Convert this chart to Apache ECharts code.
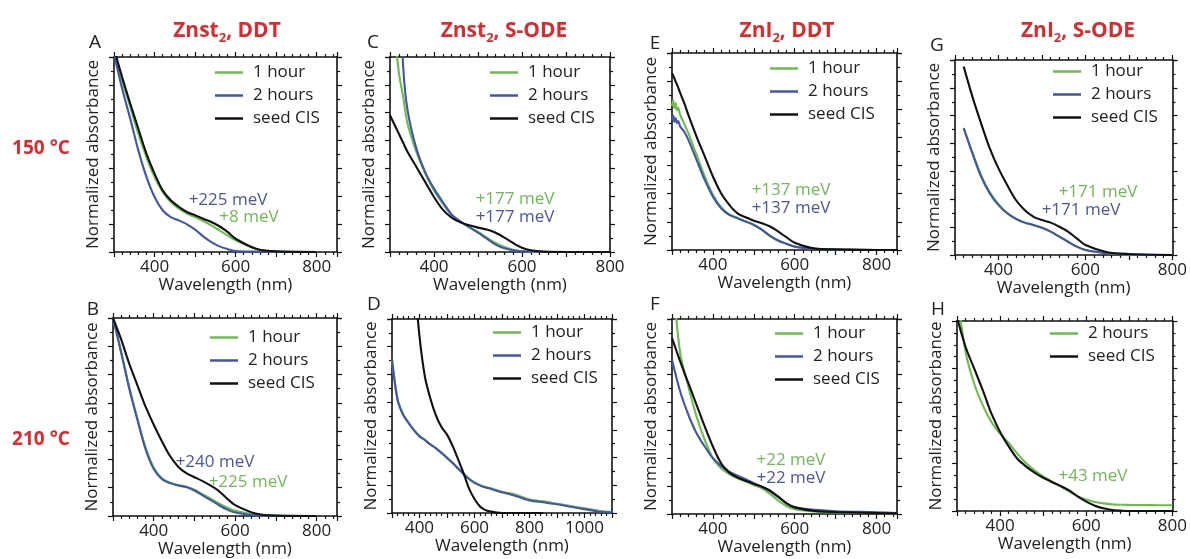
<!DOCTYPE html>
<html>
<head>
<meta charset="utf-8">
<script src="https://cdn.jsdelivr.net/npm/echarts@6/dist/echarts.min.js"></script>
<style>
  html, body { margin: 0; background: #fff; }
  #chart { width: 1190px; height: 559px; }
</style>
</head>
<body>
<div id="chart"></div>
<script>
// wavelengths (nm) and normalized absorbance
const waveA = [300, 320, 340, 360, 380, 400, 420, 440, 460, 480, 500, 520, 540, 560, 580, 600, 650, 700, 800];
const a1h   = [1.034, 0.880, 0.744, 0.607, 0.487, 0.385, 0.308, 0.256, 0.222, 0.197, 0.179, 0.159, 0.137, 0.111, 0.085, 0.060, 0.017, 0.003, 0];
const a2h   = [1.017, 0.838, 0.684, 0.521, 0.385, 0.282, 0.214, 0.179, 0.162, 0.142, 0.115, 0.080, 0.051, 0.029, 0.015, 0.005, 0.002, 0, 0];
const aSeed = [1.043, 0.897, 0.761, 0.632, 0.504, 0.402, 0.316, 0.265, 0.231, 0.205, 0.188, 0.171, 0.154, 0.132, 0.103, 0.068, 0.017, 0.003, 0];

const waveB = [300, 320, 340, 360, 380, 400, 420, 440, 460, 480, 500, 520, 540, 560, 580, 600, 650, 700, 800];
const b1h   = [1.0, 0.830, 0.650, 0.490, 0.345, 0.245, 0.190, 0.168, 0.156, 0.148, 0.133, 0.110, 0.088, 0.064, 0.043, 0.027, 0.008, 0.002, 0];
const b2h   = [1.0, 0.826, 0.643, 0.486, 0.337, 0.237, 0.187, 0.166, 0.154, 0.146, 0.129, 0.104, 0.080, 0.055, 0.033, 0.018, 0.003, 0, 0];
const bSeed = [1.0, 0.892, 0.768, 0.660, 0.552, 0.461, 0.378, 0.303, 0.249, 0.216, 0.196, 0.176, 0.153, 0.126, 0.088, 0.055, 0.013, 0.002, 0];

const waveC = [300, 320, 330, 340, 360, 380, 400, 420, 440, 460, 480, 500, 520, 540, 560, 580, 600, 620, 650, 700, 800];
const c1h   = [1.35, 0.923, 0.795, 0.658, 0.513, 0.402, 0.316, 0.248, 0.188, 0.154, 0.128, 0.103, 0.074, 0.046, 0.026, 0.012, 0.005, 0.002, 0, 0, 0];
const c2h   = [2.5, 1.5, 0.949, 0.726, 0.530, 0.410, 0.325, 0.256, 0.193, 0.157, 0.128, 0.099, 0.068, 0.038, 0.019, 0.009, 0.003, 0.001, 0, 0, 0];
const cSeed = [0.701, 0.607, 0.560, 0.513, 0.436, 0.359, 0.282, 0.217, 0.176, 0.152, 0.137, 0.125, 0.115, 0.099, 0.074, 0.046, 0.022, 0.009, 0.002, 0, 0];

const waveD = [300, 320, 340, 360, 380, 400, 420, 440, 460, 480, 500, 520, 540, 560, 580, 600, 620, 640, 660, 680, 700, 750, 800, 850, 900, 950, 1000, 1050, 1100];
const d1h   = [0.790, 0.590, 0.510, 0.466, 0.428, 0.397, 0.377, 0.354, 0.335, 0.311, 0.286, 0.260, 0.231, 0.203, 0.178, 0.158, 0.144, 0.134, 0.127, 0.118, 0.110, 0.094, 0.070, 0.060, 0.048, 0.036, 0.024, 0.012, 0.005];
const d2h   = [0.790, 0.584, 0.507, 0.464, 0.426, 0.395, 0.375, 0.352, 0.333, 0.309, 0.284, 0.258, 0.229, 0.201, 0.175, 0.155, 0.141, 0.131, 0.124, 0.115, 0.107, 0.088, 0.065, 0.055, 0.045, 0.032, 0.020, 0.008, 0.003];
const waveDSeed = [380, 400, 420, 440, 460, 480, 500, 520, 540, 560, 580, 600, 620, 640, 660, 680, 700, 750, 800, 850];
const dSeed = [1.24, 0.910, 0.700, 0.588, 0.502, 0.443, 0.404, 0.347, 0.278, 0.206, 0.127, 0.072, 0.034, 0.015, 0.007, 0.002, 0, 0, 0, 0];

const waveE = [300, 303, 306, 309, 312, 315, 320, 330, 340, 360, 380, 400, 420, 440, 460, 480, 500, 520, 540, 560, 580, 600, 650, 700, 800, 850];
const e1h   = [0.730, 0.760, 0.720, 0.745, 0.710, 0.722, 0.686, 0.640, 0.593, 0.483, 0.373, 0.280, 0.218, 0.181, 0.163, 0.146, 0.129, 0.104, 0.073, 0.049, 0.032, 0.018, 0.006, 0.002, 0, 0];
const e2h   = [0.660, 0.682, 0.650, 0.670, 0.645, 0.655, 0.627, 0.600, 0.559, 0.458, 0.356, 0.271, 0.212, 0.178, 0.161, 0.144, 0.127, 0.102, 0.071, 0.047, 0.031, 0.017, 0.005, 0.002, 0, 0];
const eSeed = [0.898, 0.885, 0.870, 0.855, 0.840, 0.825, 0.797, 0.745, 0.686, 0.576, 0.475, 0.373, 0.288, 0.229, 0.186, 0.166, 0.149, 0.136, 0.119, 0.093, 0.064, 0.037, 0.007, 0.003, 0, 0];

const waveF = [300, 320, 340, 360, 380, 400, 420, 440, 460, 480, 500, 520, 540, 560, 580, 600, 650, 700, 800, 850];
const f1h   = [1.25, 0.825, 0.654, 0.500, 0.380, 0.286, 0.235, 0.205, 0.183, 0.166, 0.149, 0.132, 0.103, 0.068, 0.041, 0.024, 0.012, 0.009, 0.005, 0.003];
const f2h   = [0.791, 0.628, 0.509, 0.414, 0.346, 0.286, 0.247, 0.217, 0.197, 0.178, 0.158, 0.140, 0.116, 0.086, 0.055, 0.034, 0.021, 0.014, 0.009, 0.005];
const fSeed = [0.902, 0.783, 0.671, 0.560, 0.449, 0.346, 0.260, 0.212, 0.187, 0.170, 0.154, 0.140, 0.120, 0.089, 0.055, 0.034, 0.015, 0.010, 0.005, 0.003];

const waveG = [320, 340, 360, 380, 400, 420, 440, 460, 480, 500, 520, 540, 560, 580, 600, 650, 700, 800];
const g1h   = [0.652, 0.527, 0.410, 0.322, 0.260, 0.216, 0.186, 0.166, 0.154, 0.140, 0.120, 0.094, 0.068, 0.043, 0.026, 0.009, 0.002, 0];
const g2h   = [0.650, 0.521, 0.402, 0.316, 0.256, 0.214, 0.185, 0.166, 0.154, 0.140, 0.120, 0.094, 0.068, 0.043, 0.026, 0.009, 0.002, 0];
const gSeed = [0.966, 0.812, 0.675, 0.547, 0.444, 0.359, 0.282, 0.231, 0.197, 0.179, 0.166, 0.145, 0.120, 0.085, 0.051, 0.014, 0.005, 0];

const waveH = [300, 320, 340, 360, 380, 400, 420, 440, 460, 480, 500, 520, 540, 560, 580, 600, 620, 640, 660, 680, 700, 750, 800];
const h2h   = [1.15, 0.837, 0.670, 0.556, 0.468, 0.407, 0.358, 0.302, 0.253, 0.214, 0.182, 0.156, 0.130, 0.104, 0.077, 0.060, 0.047, 0.040, 0.035, 0.033, 0.032, 0.031, 0.030];
const hSeed = [1.02, 0.863, 0.749, 0.635, 0.512, 0.416, 0.340, 0.275, 0.235, 0.202, 0.175, 0.153, 0.132, 0.109, 0.077, 0.049, 0.028, 0.014, 0.005, 0.002, 0, 0, 0];

const columnTitles = ['Znst{s|2}, DDT', 'Znst{s|2}, S-ODE', 'ZnI{s|2}, DDT', 'ZnI{s|2}, S-ODE'];
const rowTitles = ['150 °C', '210 °C'];

const GREEN = '#6cbd4a', BLUE = '#4256a6', BLACK = '#111111', RED = '#dc2a2f';
const TXT_GREEN = '#6fb955', TXT_BLUE = '#4a56a2';
const FONT = '"Open Sans", "Noto Sans", sans-serif';

const zip = (xs, ys) => xs.map((x, i) => [x, ys[i]]);

const panels = [
  { letter: 'A', box: [114, 57, 223, 195], xMax: 850, leg: [215, 64],
    lines: [['1 hour', GREEN, waveA, a1h], ['2 hours', BLUE, waveA, a2h], ['seed CIS', BLACK, waveA, aSeed]],
    notes: [['+225 meV', TXT_BLUE, 228, 200], ['+8 meV', TXT_GREEN, 249, 217]], letterPos: [95, 43] },
  { letter: 'B', box: [113, 318, 224, 201], xMax: 850, leg: [210, 329],
    lines: [['1 hour', GREEN, waveB, b1h], ['2 hours', BLUE, waveB, b2h], ['seed CIS', BLACK, waveB, bSeed]],
    notes: [['+240 meV', TXT_BLUE, 215, 462], ['+225 meV', TXT_GREEN, 248, 482]], letterPos: [93, 310] },
  { letter: 'C', box: [390, 57, 220, 195], xMax: 800, leg: [490, 64],
    lines: [['1 hour', GREEN, waveC, c1h], ['2 hours', BLUE, waveC, c2h], ['seed CIS', BLACK, waveC, cSeed]],
    notes: [['+177 meV', TXT_GREEN, 515, 199], ['+177 meV', TXT_BLUE, 515, 217]], letterPos: [373, 43] },
  { letter: 'D', box: [392, 319, 220, 194], xMax: 1100, leg: [493, 324],
    lines: [['1 hour', GREEN, waveD, d1h], ['2 hours', BLUE, waveD, d2h], ['seed CIS', BLACK, waveDSeed, dSeed]],
    notes: [], letterPos: [374, 305] },
  { letter: 'E', box: [672, 53, 225, 197], xMax: 850, leg: [770, 60],
    lines: [['1 hour', GREEN, waveE, e1h], ['2 hours', BLUE, waveE, e2h], ['seed CIS', BLACK, waveE, eSeed]],
    notes: [['+137 meV', TXT_GREEN, 791, 190], ['+137 meV', TXT_BLUE, 791, 208]], letterPos: [655, 44] },
  { letter: 'F', box: [672, 319, 225, 195], xMax: 850, leg: [775, 325],
    lines: [['1 hour', GREEN, waveF, f1h], ['2 hours', BLUE, waveF, f2h], ['seed CIS', BLACK, waveF, fSeed]],
    notes: [['+22 meV', TXT_GREEN, 791, 460], ['+22 meV', TXT_BLUE, 791, 478]], letterPos: [655, 305] },
  { letter: 'G', box: [955, 60, 220, 195], xMax: 800, leg: [1053, 63],
    lines: [['1 hour', GREEN, waveG, g1h], ['2 hours', BLUE, waveG, g2h], ['seed CIS', BLACK, waveG, gSeed]],
    notes: [['+171 meV', TXT_GREEN, 1098, 192], ['+171 meV', TXT_BLUE, 1081, 210]], letterPos: [937, 46] },
  { letter: 'H', box: [957, 321, 216, 190], xMax: 800, leg: [1050, 325], yInterval: 0.25, ySplit: 4,
    lines: [['2 hours', GREEN, waveH, h2h], ['seed CIS', BLACK, waveH, hSeed]],
    notes: [['+43 meV', TXT_GREEN, 1093, 476]], letterPos: [938, 310] }
];

const grid = [], xAxis = [], yAxis = [], series = [], legend = [], graphic = [];
const tickLine = { color: BLACK, width: 1.2 };

// every side of a panel frame is an axis, so ticks show on all four sides
function frameAxis(i, extra) {
  return {
    gridIndex: i, type: 'value',
    axisLine: { show: true, onZero: false, lineStyle: { color: BLACK, width: 1.6 } },
    axisTick: { show: true, inside: false, length: 5, lineStyle: tickLine },
    splitLine: { show: false },
    ...extra
  };
}

panels.forEach((p, i) => {
  const [left, top, width, height] = p.box;
  grid.push({ left, top, width, height, show: false });

  const xr = { min: 300, max: p.xMax, interval: 100 };
  const xMinor = { show: true, splitNumber: 5, length: 3, lineStyle: tickLine };
  xAxis.push(frameAxis(i, {
    ...xr, position: 'bottom', minorTick: xMinor,
    name: 'Wavelength (nm)', nameLocation: 'middle', nameGap: 25,
    nameTextStyle: { fontFamily: FONT, fontSize: 17, color: '#222' },
    axisLabel: {
      margin: 7, fontFamily: FONT, fontSize: 17, color: '#222',
      formatter: v => (v % 200 === 0 && v > 300) ? String(v) : ''
    }
  }));
  xAxis.push(frameAxis(i, {
    ...xr, position: 'top', minorTick: xMinor,
    axisLabel: { show: true, formatter: () => '' }
  }));

  const yr = { min: 0, max: 1, interval: p.yInterval || 1 / 7 };
  const yMinor = { show: true, splitNumber: p.ySplit || 2, length: 3, lineStyle: tickLine };
  yAxis.push(frameAxis(i, {
    ...yr, position: 'left', minorTick: yMinor,
    axisLabel: { show: true, formatter: () => '' },
    name: 'Normalized absorbance', nameLocation: 'middle', nameGap: 8,
    nameTextStyle: { fontFamily: FONT, fontSize: 17, color: '#222' }
  }));
  yAxis.push(frameAxis(i, {
    ...yr, position: 'right', minorTick: yMinor,
    axisLabel: { show: true, formatter: () => '' }
  }));

  p.lines.forEach(([name, color, xs, ys]) => {
    series.push({
      name, type: 'line', xAxisIndex: i * 2, yAxisIndex: i * 2,
      data: zip(xs, ys), showSymbol: false, symbol: 'none', smooth: 0.3,
      clip: true, silent: true,
      lineStyle: { color, width: 2.1 }, itemStyle: { color }
    });
  });

  legend.push({
    orient: 'vertical', left: p.leg[0], top: p.leg[1], padding: 0,
    icon: 'rect', itemWidth: 28, itemHeight: 2.5, itemGap: 6, selectedMode: false,
    textStyle: { fontFamily: FONT, fontSize: 17, color: '#222', padding: [0, 0, 0, 5] },
    data: p.lines.map(([name, color]) => ({ name, itemStyle: { color } }))
  });

  p.notes.forEach(([text, fill, x, y]) => {
    graphic.push({ type: 'text', x, y, style: { text, fill, font: `17px ${FONT}`, align: 'center', verticalAlign: 'middle' } });
  });
  graphic.push({ type: 'text', x: p.letterPos[0], y: p.letterPos[1],
    style: { text: p.letter, fill: '#222', font: `19px ${FONT}`, align: 'center', verticalAlign: 'middle' } });
});

const titleCenters = [222, 499, 782, 1073];
const title = columnTitles.map((t, i) => ({
  text: t, left: titleCenters[i], top: 12, textAlign: 'center',
  textStyle: {
    fontFamily: FONT, fontSize: 21, fontWeight: 'bold', color: RED, lineHeight: 28,
    rich: { s: { fontFamily: FONT, fontSize: 13, fontWeight: 'bold', color: RED, lineHeight: 14, verticalAlign: 'bottom' } }
  }
}));

const rowY = [149, 440];
rowTitles.forEach((t, i) => {
  graphic.push({ type: 'text', x: 41, y: rowY[i],
    style: { text: t, fill: RED, font: `bold 19px ${FONT}`, align: 'center', verticalAlign: 'middle' } });
});

const chart = echarts.init(document.getElementById('chart'));
chart.setOption({
  animation: false,
  backgroundColor: '#fff',
  title, grid, xAxis, yAxis, series, legend, graphic
});
</script>
</body>
</html>
